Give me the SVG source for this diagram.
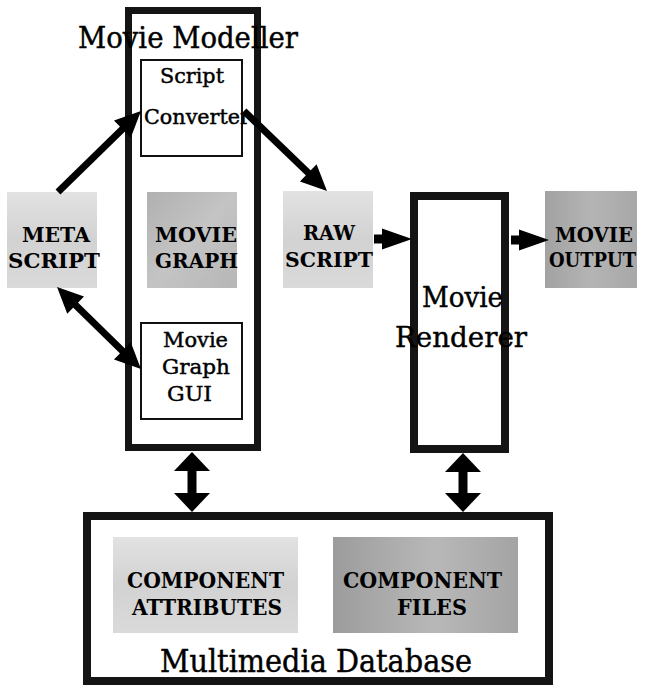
<svg xmlns="http://www.w3.org/2000/svg" width="651" height="687" viewBox="0 0 651 687">
<style>
.frame{fill:#fff;stroke:#141414;}
.thin{fill:#fff;stroke:#111;stroke-width:2;}
.t{font-family:"DejaVu Serif","Liberation Serif",serif;fill:#000;stroke:#000;stroke-width:0.45;}
.b{font-family:"DejaVu Serif","Liberation Serif",serif;font-weight:bold;fill:#000;}
.conn{stroke:#000;fill:none;}
</style>
<defs>
<linearGradient id="gLight" x1="0" y1="0" x2="0" y2="1">
<stop offset="0" stop-color="#e2e2e2"/><stop offset="0.5" stop-color="#d2d2d2"/><stop offset="1" stop-color="#dadada"/>
</linearGradient>
<linearGradient id="gMid" x1="0" y1="0" x2="1" y2="1">
<stop offset="0" stop-color="#b0b0b0"/><stop offset="0.5" stop-color="#c4c4c4"/><stop offset="1" stop-color="#b6b6b6"/>
</linearGradient>
<linearGradient id="gDark" x1="0" y1="0" x2="1" y2="0">
<stop offset="0" stop-color="#a2a2a2"/><stop offset="0.5" stop-color="#b4b4b4"/><stop offset="1" stop-color="#a8a8a8"/>
</linearGradient>
<linearGradient id="gFiles" x1="0" y1="0" x2="1" y2="0">
<stop offset="0" stop-color="#9c9c9c"/><stop offset="0.55" stop-color="#b8b8b8"/><stop offset="1" stop-color="#a4a4a4"/>
</linearGradient>
<marker id="ahD" markerUnits="userSpaceOnUse" markerWidth="30" markerHeight="30" refX="2" refY="0" orient="auto-start-reverse" overflow="visible">
<path d="M0,-12 L26,0 L0,12 z" fill="#000"/>
</marker>
<marker id="ahH" markerUnits="userSpaceOnUse" markerWidth="34" markerHeight="24" refX="2" refY="0" orient="auto" overflow="visible">
<path d="M0,-10.5 L30,0 L0,10.5 z" fill="#000"/>
</marker>
<marker id="ahV" markerUnits="userSpaceOnUse" markerWidth="40" markerHeight="40" refX="2" refY="0" orient="auto-start-reverse" overflow="visible">
<path d="M0,-18 L19,0 L0,18 z" fill="#000"/>
</marker>
</defs>
<rect width="651" height="687" fill="#fff"/>

<g id="movie-modeller">
<rect class="frame" x="128.5" y="10.5" width="129" height="437" stroke-width="7"/>
<text class="t" x="78" y="48" font-size="29" textLength="220" lengthAdjust="spacingAndGlyphs">Movie Modeller</text>
</g>

<g id="script-converter">
<rect class="thin" x="141" y="60" width="101" height="96"/>
<text class="t" x="160" y="83" font-size="21" textLength="64" lengthAdjust="spacingAndGlyphs">Script</text>
<text class="t" x="144" y="124" font-size="21" textLength="106" lengthAdjust="spacingAndGlyphs">Converter</text>
</g>

<g id="movie-graph-gui">
<rect class="thin" x="141" y="323" width="101" height="96"/>
<text class="t" x="163" y="347" font-size="21" textLength="65" lengthAdjust="spacingAndGlyphs">Movie</text>
<text class="t" x="162" y="374" font-size="21" textLength="68" lengthAdjust="spacingAndGlyphs">Graph</text>
<text class="t" x="167" y="401" font-size="21" textLength="45" lengthAdjust="spacingAndGlyphs">GUI</text>
</g>

<g id="meta-script">
<rect x="7" y="192" width="90" height="96" fill="url(#gLight)"/>
<text class="b" x="22" y="242" font-size="21" textLength="68" lengthAdjust="spacingAndGlyphs">META</text>
<text class="b" x="8" y="268" font-size="21" textLength="92" lengthAdjust="spacingAndGlyphs">SCRIPT</text>
</g>

<g id="movie-graph">
<rect x="147" y="192" width="90" height="96" fill="url(#gMid)"/>
<text class="b" x="155" y="242" font-size="21" textLength="82" lengthAdjust="spacingAndGlyphs">MOVIE</text>
<text class="b" x="155" y="268" font-size="21" textLength="83" lengthAdjust="spacingAndGlyphs">GRAPH</text>
</g>

<g id="raw-script">
<rect x="283" y="191" width="90" height="97" fill="url(#gLight)"/>
<text class="b" x="303" y="240" font-size="21" textLength="52" lengthAdjust="spacingAndGlyphs">RAW</text>
<text class="b" x="285" y="267" font-size="21" textLength="88" lengthAdjust="spacingAndGlyphs">SCRIPT</text>
</g>

<g id="movie-renderer">
<rect class="frame" x="414" y="196" width="91" height="253" stroke-width="8"/>
<text class="t" x="422" y="307" font-size="28" textLength="81" lengthAdjust="spacingAndGlyphs">Movie</text>
<text class="t" x="395" y="347" font-size="28" textLength="132" lengthAdjust="spacingAndGlyphs">Renderer</text>
</g>

<g id="movie-output">
<rect x="545" y="191" width="92" height="97" fill="url(#gDark)"/>
<text class="b" x="555" y="242" font-size="21" textLength="78" lengthAdjust="spacingAndGlyphs">MOVIE</text>
<text class="b" x="549" y="267" font-size="21" textLength="87" lengthAdjust="spacingAndGlyphs">OUTPUT</text>
</g>

<g id="multimedia-database">
<rect class="frame" x="87" y="516" width="462" height="165" stroke-width="8"/>
<text class="t" x="160" y="672" font-size="31" textLength="312" lengthAdjust="spacingAndGlyphs">Multimedia Database</text>
</g>

<g id="component-attributes">
<rect x="113" y="537" width="185" height="96" fill="url(#gLight)"/>
<text class="b" x="127" y="588" font-size="23" textLength="157" lengthAdjust="spacingAndGlyphs">COMPONENT</text>
<text class="b" x="132" y="615" font-size="23" textLength="150" lengthAdjust="spacingAndGlyphs">ATTRIBUTES</text>
</g>

<g id="component-files">
<rect x="333" y="537" width="185" height="96" fill="url(#gFiles)"/>
<text class="b" x="343" y="588" font-size="23" textLength="159" lengthAdjust="spacingAndGlyphs">COMPONENT</text>
<text class="b" x="397" y="615" font-size="23" textLength="70" lengthAdjust="spacingAndGlyphs">FILES</text>
</g>

<g id="connectors">
<line class="conn" x1="58" y1="192" x2="123.8" y2="127.8" stroke-width="7" marker-end="url(#ahD)"/>
<line class="conn" x1="244" y1="111" x2="309.7" y2="174.3" stroke-width="7" marker-end="url(#ahD)"/>
<line class="conn" x1="74.2" y1="303.8" x2="123.8" y2="352.2" stroke-width="7" marker-start="url(#ahD)" marker-end="url(#ahD)"/>
<line class="conn" x1="374" y1="239" x2="384" y2="239" stroke-width="9" marker-end="url(#ahH)"/>
<line class="conn" x1="511" y1="240" x2="521" y2="240" stroke-width="9" marker-end="url(#ahH)"/>
<line class="conn" x1="192" y1="469" x2="192" y2="495" stroke-width="9" marker-start="url(#ahV)" marker-end="url(#ahV)"/>
<line class="conn" x1="463" y1="470" x2="463" y2="495" stroke-width="9" marker-start="url(#ahV)" marker-end="url(#ahV)"/>
</g>
</svg>
